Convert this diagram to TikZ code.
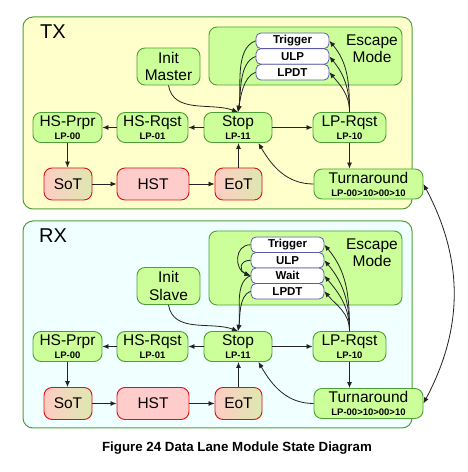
\documentclass[tikz,border=0pt]{standalone}
\usepackage{fontspec}
\setmainfont{Liberation Sans}
\usetikzlibrary{arrows.meta}
\definecolor{txbg}{HTML}{FFFFCC}
\definecolor{rxbg}{HTML}{F0FFFF}
\definecolor{gfill}{HTML}{CCFF99}
\definecolor{gdraw}{HTML}{4CA035}
\definecolor{rfill}{HTML}{FFCCCC}
\definecolor{rdraw}{HTML}{DD1111}
\definecolor{mixr}{HTML}{FFCCC4}
\definecolor{mixg}{HTML}{DDE8B0}
\definecolor{bdraw}{HTML}{5A5AAA}
\definecolor{arrc}{HTML}{222222}
\newcommand\twoline[2]{#1\\[-2.5pt]{\bfseries\fontsize{9.5}{10}\selectfont #2}}
\tikzset{
  gstate/.style={draw=gdraw, fill=gfill, rounded corners=8pt, line width=0.9pt, inner sep=0pt, minimum height=30pt, align=center, font=\fontsize{15.5}{15.5}\selectfont},
  rstate/.style={draw=rdraw, fill=rfill, rounded corners=8pt, line width=0.9pt, inner sep=0pt, minimum height=32pt, font=\fontsize{15.5}{15.5}\selectfont},
  mixstate/.style={rstate, left color=mixr, right color=mixg},
  esc/.style={draw=bdraw, fill=white, rounded corners=5pt, line width=0.8pt, inner sep=0pt, minimum width=73pt, font=\bfseries\fontsize{11.5}{11.5}\selectfont},
  region/.style={draw=gdraw, rounded corners=10pt, line width=1pt, inner sep=0pt, minimum width=389pt},
  escbox/.style={draw=gdraw, fill=gfill, rounded corners=8pt, line width=0.9pt, inner sep=0pt, minimum width=193pt},
  lbl/.style={align=center, font=\fontsize{15.5}{17}\selectfont},
  big/.style={font=\fontsize{20}{20}\selectfont},
  link/.style={draw=arrc, line width=0.8pt, -{Latex[length=6pt,width=5pt]}},
  blink/.style={draw=arrc, line width=0.8pt, {Latex[length=6pt,width=5pt]}-{Latex[length=6pt,width=5pt]}},
}
\begin{document}
\begin{tikzpicture}[x=1pt,y=1pt]
\useasboundingbox (0,0) rectangle (468,472);
\fill[white] (0,0) rectangle (468,472);

% ---------- TX ----------
\node[region, fill=txbg, minimum height=192pt] (txreg) at (217.5,359) {};
\node[big] (txlab) at (53,440) {TX};
\node[escbox, minimum height=58pt] (txesc) at (305.5,416) {};
\node[lbl] (txesclab) at (372,423) {Escape\\Mode};
\node[esc, minimum height=15.7pt] (txtrig) at (292.5,431.2) {Trigger};
\node[esc, minimum height=15.7pt] (txulp) at (292.5,415.5) {ULP};
\node[esc, minimum height=15.7pt] (txlpdt) at (292.5,399.8) {LPDT};

\node[gstate, minimum width=63pt, minimum height=37pt, font=\fontsize{15.5}{17.5}\selectfont] (txinit) at (168.5,405.5) {Init\\Master};
\node[gstate, minimum width=69pt] (txprpr) at (67.5,344.5) {\twoline{HS-Prpr}{LP-00}};
\node[gstate, minimum width=71pt] (txrqst) at (152.5,344.5) {\twoline{HS-Rqst}{LP-01}};
\node[gstate, minimum width=68pt] (txstop) at (238,344.5) {\twoline{Stop}{LP-11}};
\node[gstate, minimum width=73pt] (txlprq) at (349.5,344.5) {\twoline{LP-Rqst}{LP-10}};
\node[gstate, minimum width=109pt] (txturn) at (368.5,288) {\twoline{Turnaround}{LP-00>10>00>10}};
\node[mixstate, minimum width=48pt] (txsot) at (68,288) {SoT};
\node[rstate, minimum width=72pt] (txhst) at (153,288) {HST};
\node[mixstate, minimum width=47pt] (txeot) at (238.5,288) {EoT};

\draw[link] (txstop) -- (txrqst);
\draw[link] (txrqst) -- (txprpr);
\draw[link] (txprpr.south) -- (txprpr.south |- txsot.north);
\draw[link] (txsot) -- (txhst);
\draw[link] (txhst) -- (txeot);
\draw[link] (txeot.north) -- (txeot.north |- txstop.south);
\draw[link] (txstop) -- (txlprq);
\draw[link] (txlprq.south) -- (txlprq.south |- txturn.north);
\draw[link] (txturn.west) to[out=180,in=-60] ([xshift=-14pt]txstop.south east);
\draw[link] (txinit.south) to[out=-80,in=160] (txstop.north);
\draw[link] (txtrig.west) to[out=200,in=80,looseness=0.8] (txstop.north);
\draw[link] (txulp.west) to[out=200,in=80,looseness=0.8] (txstop.north);
\draw[link] (txlpdt.west) to[out=200,in=80,looseness=0.8] (txstop.north);
\draw[link] (txlprq.north) to[out=90,in=-50] (txtrig.east);
\draw[link] (txlprq.north) to[out=90,in=-50] (txulp.east);
\draw[link] (txlprq.north) to[out=90,in=-50] (txlpdt.east);

% ---------- RX ----------
\node[region, fill=rxbg, minimum height=207pt] (rxreg) at (217.5,147.5) {};
\node[big] (rxlab) at (53,236) {RX};
\node[escbox, minimum height=74pt] (rxesc) at (305.5,204) {};
\node[lbl] (rxesclab) at (372,219) {Escape\\Mode};
\node[esc, minimum height=15.5pt] (rxtrig) at (287.5,227.25) {Trigger};
\node[esc, minimum height=15.5pt] (rxulp) at (287.5,211.75) {ULP};
\node[esc, minimum height=15.5pt] (rxwait) at (287.5,196.25) {Wait};
\node[esc, minimum height=15.5pt] (rxlpdt) at (287.5,180.75) {LPDT};

\node[gstate, minimum width=63pt, minimum height=37pt, font=\fontsize{15.5}{17.5}\selectfont] (rxinit) at (168.5,186) {Init\\Slave};
\node[gstate, minimum width=69pt] (rxprpr) at (67.5,125.5) {\twoline{HS-Prpr}{LP-00}};
\node[gstate, minimum width=71pt] (rxrqst) at (152.5,125.5) {\twoline{HS-Rqst}{LP-01}};
\node[gstate, minimum width=68pt] (rxstop) at (238,125.5) {\twoline{Stop}{LP-11}};
\node[gstate, minimum width=73pt] (rxlprq) at (349.5,125.5) {\twoline{LP-Rqst}{LP-10}};
\node[gstate, minimum width=109pt] (rxturn) at (368.5,68.5) {\twoline{Turnaround}{LP-00>10>00>10}};
\node[mixstate, minimum width=48pt] (rxsot) at (68,68.5) {SoT};
\node[rstate, minimum width=72pt] (rxhst) at (153,68.5) {HST};
\node[mixstate, minimum width=47pt] (rxeot) at (238.5,68.5) {EoT};

\draw[link] (rxstop) -- (rxrqst);
\draw[link] (rxrqst) -- (rxprpr);
\draw[link] (rxprpr.south) -- (rxprpr.south |- rxsot.north);
\draw[link] (rxsot) -- (rxhst);
\draw[link] (rxhst) -- (rxeot);
\draw[link] (rxeot.north) -- (rxeot.north |- rxstop.south);
\draw[link] (rxstop) -- (rxlprq);
\draw[link] (rxlprq.south) -- (rxlprq.south |- rxturn.north);
\draw[link] (rxturn.west) to[out=180,in=-60] ([xshift=-14pt]rxstop.south east);
\draw[link] (rxinit.south) to[out=-80,in=160] (rxstop.north);
\draw[link] (rxtrig.west) to[out=180,in=160,looseness=1.4] (rxwait.west);
\draw[link] (rxulp.west) to[out=180,in=160,looseness=2] (rxwait.west);
\draw[link] (rxwait.west) to[out=200,in=80,looseness=0.8] (rxstop.north);
\draw[link] (rxlpdt.west) to[out=200,in=80,looseness=0.8] (rxstop.north);
\draw[link] (rxlprq.north) to[out=90,in=-50] (rxtrig.east);
\draw[link] (rxlprq.north) to[out=90,in=-50] (rxulp.east);
\draw[link] (rxlprq.north) to[out=90,in=-50] (rxwait.east);
\draw[link] (rxlprq.north) to[out=90,in=-50] (rxlpdt.east);

% ---------- between ----------
\draw[blink] (txturn.east) to[out=-62,in=62] (rxturn.east);

\node[font=\bfseries\fontsize{13.3}{13.3}\selectfont] (caption) at (237,24) {Figure 24 Data Lane Module State Diagram};
\end{tikzpicture}
\end{document}
